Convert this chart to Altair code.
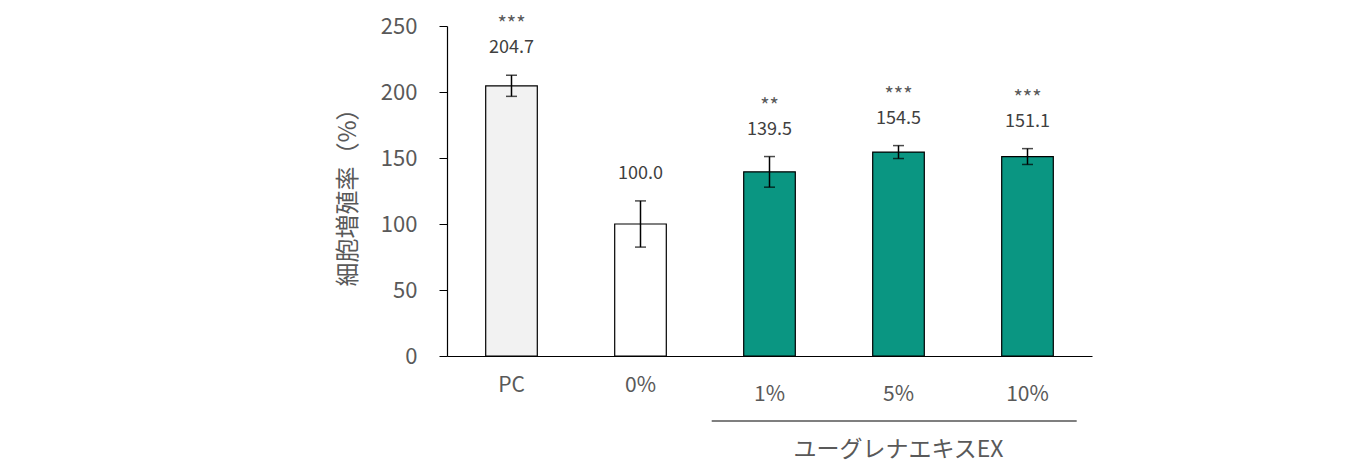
import altair as alt
import pandas as pd

categories = ["PC", "0%", "1%", "5%", "10%"]
means = [204.7, 100.0, 139.5, 154.5, 151.1]
sds = [8.0, 17.5, 11.6, 4.9, 6.0]
stars = ["***", "", "**", "***", "***"]
fills = ["#f2f2f2", "#ffffff", "#0a9682", "#0a9682", "#0a9682"]
y_ticks = [0, 50, 100, 150, 200, 250]
group_label = "ユーグレナエキスEX"
y_title = "細胞増殖率（%）"

FONT = "Noto Sans CJK JP"

df = pd.DataFrame({
    "cat": categories,
    "mean": means,
    "sd": sds,
    "star": stars,
    "fill": fills,
})
df["lo"] = df["mean"] - df["sd"]
df["hi"] = df["mean"] + df["sd"]
df["label"] = df["mean"].map(lambda v: f"{v:.1f}")

x_enc = alt.X(
    "cat:N",
    sort=categories,
    scale=alt.Scale(paddingInner=0.6, paddingOuter=0.3),
    axis=alt.Axis(
        title=None,
        ticks=False,
        labelAngle=0,
        labelFont=FONT,
        labelFontSize=21,
        labelColor="#595959",
        labelPadding={"condition": {"test": "datum.value == 'PC' || datum.value == '0%'", "value": 18}, "value": 27},
        domainColor="#000000",
        domainWidth=1.2,
    ),
)

y_scale = alt.Scale(domain=[0, 250], nice=False)

base = alt.Chart(df)

bars = base.mark_bar(stroke="#000000", strokeWidth=1.2).encode(
    x=x_enc,
    y=alt.Y(
        "mean:Q",
        scale=y_scale,
        axis=alt.Axis(
            values=y_ticks,
            grid=False,
            title=y_title,
            titleFont=FONT,
            titleFontSize=24,
            titleFontWeight="normal",
            titleColor="#595959",
            titlePadding=20,
            labelFont=FONT,
            labelFontSize=22,
            labelColor="#595959",
            labelPadding=22,
            tickSize=8,
            tickColor="#000000",
            domainColor="#000000",
            domainWidth=1.2,
        ),
    ),
    fill=alt.Fill("fill:N", scale=None),
)

err = base.mark_rule(color="#000000", strokeWidth=1.5).encode(
    x=alt.X("cat:N", sort=categories),
    y=alt.Y("lo:Q", scale=y_scale),
    y2="hi:Q",
)

cap_hi = base.mark_tick(color="#000000", thickness=1.5, size=11).encode(
    x=alt.X("cat:N", sort=categories),
    y=alt.Y("hi:Q", scale=y_scale),
)
cap_lo = base.mark_tick(color="#000000", thickness=1.5, size=11).encode(
    x=alt.X("cat:N", sort=categories),
    y=alt.Y("lo:Q", scale=y_scale),
)

vals = base.mark_text(font=FONT, fontSize=18, color="#404040", dy=-27, baseline="middle").encode(
    x=alt.X("cat:N", sort=categories),
    y=alt.Y("hi:Q", scale=y_scale),
    text="label:N",
)

star_txt = base.mark_text(font=FONT, fontSize=20, color="#595959", dy=-50, baseline="middle").encode(
    x=alt.X("cat:N", sort=categories),
    y=alt.Y("hi:Q", scale=y_scale),
    text="star:N",
)

group_df = pd.DataFrame({"g": [group_label]})

group_line = alt.Chart(group_df).mark_rule(
    color="#000000", strokeWidth=1.2, xOffset=-32, x2Offset=75
).encode(
    x=alt.XDatum("1%", bandPosition=0),
    x2=alt.X2Datum("10%", bandPosition=0),
    y=alt.value(395),
)

group_text = alt.Chart(group_df).mark_text(font=FONT, fontSize=23, color="#595959", baseline="middle").encode(
    x=alt.XDatum("5%"),
    y=alt.value(424),
    text="g:N",
)

chart = alt.layer(bars, err, cap_hi, cap_lo, vals, star_txt, group_line, group_text).properties(
    width=645,
    height=330,
    autosize=alt.AutoSizeParams(type="none"),
    padding={"left": 439, "top": 18, "right": 40, "bottom": 110},
).configure_view(stroke=None)

chart.save("out.html", embed_options={"renderer": "svg", "actions": False})
